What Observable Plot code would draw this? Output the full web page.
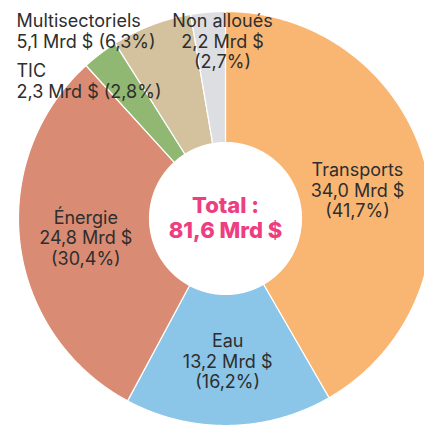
<!DOCTYPE html>
<html><head><meta charset="utf-8">
<script src="https://cdn.jsdelivr.net/npm/d3@7"></script>
<script src="https://cdn.jsdelivr.net/npm/@observablehq/plot@0.6"></script>
<style>
html,body{margin:0;padding:0;background:#fff;overflow:hidden;width:424px;height:426px;}
#chart{width:424px;height:426px;overflow:hidden;}
</style>
</head><body><div id="chart"></div>
<script>
const categories = ["Transports", "Eau", "Énergie", "TIC", "Multisectoriels", "Non alloués"];
const values = [34.0, 13.2, 24.8, 2.3, 5.1, 2.2];
const shares = [41.7, 16.2, 30.4, 2.8, 6.3, 2.7];
const colors = ["#F9B673", "#8BC5E8", "#D98B73", "#90B872", "#D3C29D", "#DDDEE2"];
const totalLabel = "81,6";

const fr = v => v.toFixed(1).replace(".", ",");
const innerR = 0.367;
const pie = d3.pie().sort(null).value(d => d.value)(categories.map((c, i) => ({cat: c, value: values[i], share: shares[i]})));

const ring = [];
for (const a of pie) {
  const n = Math.max(4, Math.ceil((a.endAngle - a.startAngle) / 0.005));
  for (let k = 0; k <= n; k++) {
    const t = a.startAngle + (a.endAngle - a.startAngle) * k / n;
    ring.push({cat: a.data.cat, x: Math.sin(t), y: Math.cos(t)});
  }
  for (let k = n; k >= 0; k--) {
    const t = a.startAngle + (a.endAngle - a.startAngle) * k / n;
    ring.push({cat: a.data.cat, x: innerR * Math.sin(t), y: innerR * Math.cos(t)});
  }
}
const insideNames = ["Transports", "Eau", "Énergie"];
const inside = pie.filter(a => insideNames.includes(a.data.cat)).map(a => {
  const m = (a.startAngle + a.endAngle) / 2, r = 0.68;
  return {x: r * Math.sin(m), y: r * Math.cos(m),
    text: `${a.data.cat}\n${fr(a.data.value)} Mrd $\n(${fr(a.data.share)}%)`, cat: a.data.cat};
});
const lab = name => {
  const i = categories.indexOf(name);
  return {name, v: fr(values[i]), s: fr(shares[i])};
};
const multi = lab("Multisectoriels"), tic = lab("TIC"), na = lab("Non alloués");

const font = "Inter, 'Open Sans', sans-serif";
const fs = 18, lh = 1.14, tc = "#2e2e2e";
const chart = Plot.plot({
  width: 424, height: 426, margin: 0,
  style: {fontFamily: font, background: "#fff"},
  x: {domain: [-1, 1], range: [18, 432], axis: null},
  y: {domain: [-1, 1], range: [425, 11], axis: null},
  color: {domain: categories, range: colors},
  marks: [
    Plot.line(ring, {x: "x", y: "y", z: "cat", fill: "cat", stroke: "white", strokeWidth: 1.2, curve: "linear-closed"}),
    Plot.text(inside, {x: "x", y: "y", text: "text", fontSize: fs, lineHeight: lh, fill: tc,
      dy: 2, filter: d => d.cat !== "Transports"}),
    Plot.text(inside, {x: "x", y: "y", text: "text", fontSize: fs, lineHeight: lh, fill: tc,
      dx: -4, dy: 8, filter: d => d.cat === "Transports"}),
    Plot.text([`${multi.name}\n${multi.v} Mrd $ (${multi.s}%)`], {frameAnchor: "top-left", textAnchor: "start", lineAnchor: "top",
      dx: 16, dy: 12, fontSize: fs, lineHeight: lh, fill: tc}),
    Plot.text([`${tic.name}\n${tic.v} Mrd $ (${tic.s}%)`], {frameAnchor: "top-left", textAnchor: "start", lineAnchor: "top",
      dx: 16, dy: 62, fontSize: fs, lineHeight: lh, fill: tc}),
    Plot.text([`${na.name}\n${na.v} Mrd $\n(${na.s}%)`], {frameAnchor: "top", textAnchor: "middle", lineAnchor: "top",
      dx: 10, dy: 12, fontSize: fs, lineHeight: lh, fill: tc}),
    Plot.text([`Total :\n${totalLabel} Mrd $`], {x: 0, y: 0, dy: -1, fontSize: 22, fontWeight: 800, lineHeight: 1.12, fill: "#EE3D80"})
  ]
});
document.getElementById("chart").appendChild(chart);
</script>
</body></html>
